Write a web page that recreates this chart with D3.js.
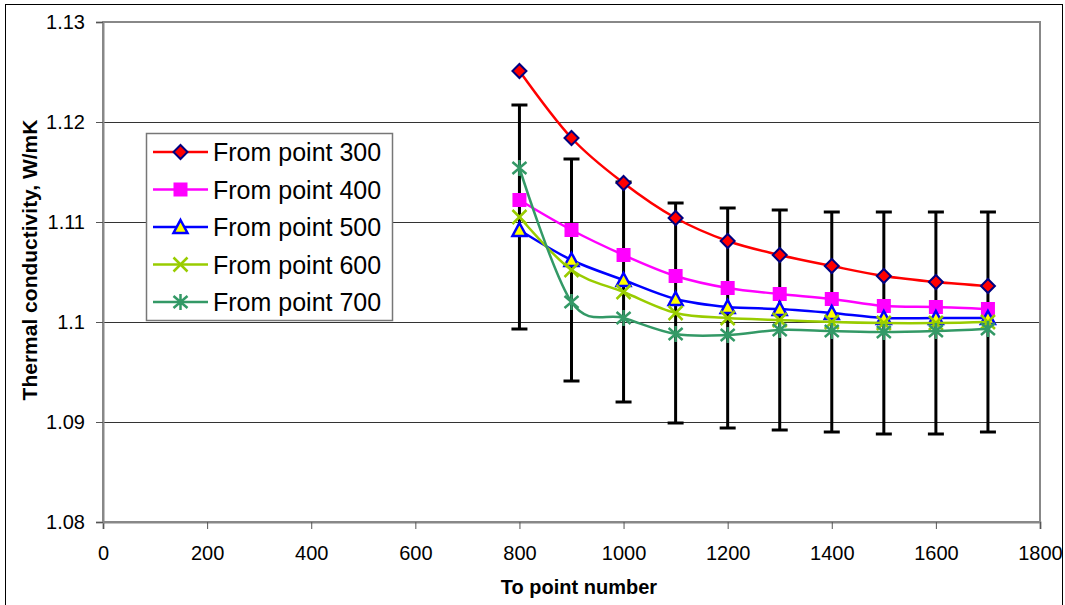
<!DOCTYPE html>
<html>
<head>
<meta charset="utf-8">
<script src="https://cdn.jsdelivr.net/npm/d3@7"></script>
<style>
  body { margin: 0; background: #fff; }
  text { font-family: "Liberation Sans", Arial, sans-serif; }
</style>
</head>
<body>
<div id="chart"></div>
<script>
// --- data
const pointNumbers = [800, 900, 1000, 1100, 1200, 1300, 1400, 1500, 1600, 1700];
const from300 = [1.1251, 1.1184, 1.1139, 1.1104, 1.1081, 1.1067, 1.1056, 1.1046, 1.1040, 1.1036];
const from400 = [1.1122, 1.1092, 1.1067, 1.1046, 1.1034, 1.1028, 1.1023, 1.1016, 1.1015, 1.1013];
const from500 = [1.1092, 1.1062, 1.1042, 1.1023, 1.1015, 1.1013, 1.1009, 1.1004, 1.1004, 1.1004];
const from600 = [1.1105, 1.1052, 1.1030, 1.1009, 1.1004, 1.1002, 1.1000, 1.0999, 1.0999, 1.1000];
const from700 = [1.1154, 1.1020, 1.1004, 1.0988, 1.0987, 1.0992, 1.0991, 1.0990, 1.0991, 1.0993];
// error bars belong to the "From point 600" series
const errors600 = [0.0112, 0.0111, 0.0110, 0.0110, 0.0110, 0.0110, 0.0110, 0.0111, 0.0111, 0.0110];

const seriesNames = ["From point 300", "From point 400", "From point 500", "From point 600", "From point 700"];
const seriesValues = [from300, from400, from500, from600, from700];
const xTicks = [0, 200, 400, 600, 800, 1000, 1200, 1400, 1600, 1800];
const yTicks = [1.08, 1.09, 1.1, 1.11, 1.12, 1.13];

const colors = ["#ff0000", "#ff00ff", "#0000ff", "#99cc00", "#339966"];
const markers = ["diamond", "square", "triangle", "cross", "star"];

// --- layout
const W = 1065, H = 605;
const margin = {top: 22, right: 25, bottom: 83, left: 103};
const width = W - margin.left - margin.right,
      height = H - margin.top - margin.bottom;

const svg = d3.select("#chart").append("svg")
  .attr("width", W).attr("height", H);

// outer chart frame
svg.append("rect")
  .attr("x", 5.5).attr("y", 4.5)
  .attr("width", 1057).attr("height", 610)
  .attr("fill", "none").attr("stroke", "#000").attr("stroke-width", 1);

const g = svg.append("g")
  .attr("transform", "translate(" + margin.left + "," + margin.top + ")");

const x = d3.scaleLinear().domain([0, 1800]).range([0, width]);
const y = d3.scaleLinear().domain([1.08, 1.13]).range([height, 0]);

// gridlines
g.append("g")
  .selectAll("line")
  .data(yTicks.filter(function(d){ return d > 1.08 && d < 1.13; }))
  .enter().append("line")
  .attr("x1", 0).attr("x2", width)
  .attr("y1", function(d){ return Math.round(y(d)) + 0.5; })
  .attr("y2", function(d){ return Math.round(y(d)) + 0.5; })
  .attr("stroke", "#333").attr("stroke-width", 1);

// plot area border
g.append("rect")
  .attr("x", 0).attr("y", 0).attr("width", width).attr("height", height)
  .attr("fill", "none").attr("stroke", "#888").attr("stroke-width", 2);

// axes
const xAxis = g.append("g")
  .attr("transform", "translate(0," + height + ")")
  .call(d3.axisBottom(x).tickValues(xTicks).tickSize(7).tickPadding(17).tickFormat(d3.format("d")));
const yAxis = g.append("g")
  .call(d3.axisLeft(y).tickValues(yTicks).tickSize(7).tickPadding(11).tickFormat(function(d){ return String(+d.toFixed(2)); }));

[xAxis, yAxis].forEach(function(a){
  a.select(".domain").attr("stroke", "#888").attr("stroke-width", 2);
  a.selectAll(".tick line").attr("stroke", "#555").attr("stroke-width", 1);
  a.selectAll(".tick text").attr("fill", "#000")
    .style("font-size", "20px").style("font-family", "'Liberation Sans', Arial, sans-serif");
});

// axis titles
svg.append("text")
  .attr("x", 579).attr("y", 594)
  .attr("text-anchor", "middle")
  .style("font-size", "20px").style("font-weight", "bold")
  .text("To point number");

svg.append("text")
  .attr("transform", "translate(37,260) rotate(-90)")
  .attr("text-anchor", "middle")
  .style("font-size", "21px").style("font-weight", "bold")
  .text("Thermal conductivity, W/mK");

// error bars (under the lines)
const eb = g.append("g");
pointNumbers.forEach(function(p, i){
  const v = from600[i], e = errors600[i];
  const px = x(p);
  eb.append("line")
    .attr("x1", px).attr("x2", px)
    .attr("y1", y(v + e)).attr("y2", y(v - e))
    .attr("stroke", "#000").attr("stroke-width", 3);
  [v + e, v - e].forEach(function(c){
    eb.append("line")
      .attr("x1", px - 8).attr("x2", px + 8)
      .attr("y1", y(c)).attr("y2", y(c))
      .attr("stroke", "#000").attr("stroke-width", 3);
  });
});

// marker drawing
function drawMarker(sel, type, color, cx, cy) {
  if (type === "diamond") {
    sel.append("path")
      .attr("d", "M" + cx + "," + (cy - 7) + "L" + (cx + 7) + "," + cy + "L" + cx + "," + (cy + 7) + "L" + (cx - 7) + "," + cy + "Z")
      .attr("fill", "#ff0000").attr("stroke", "#000080").attr("stroke-width", 2);
  } else if (type === "square") {
    sel.append("rect")
      .attr("x", cx - 7).attr("y", cy - 7).attr("width", 14).attr("height", 14)
      .attr("fill", color);
  } else if (type === "triangle") {
    sel.append("path")
      .attr("d", "M" + cx + "," + (cy - 7) + "L" + (cx + 7) + "," + (cy + 6) + "L" + (cx - 7) + "," + (cy + 6) + "Z")
      .attr("fill", "#ffff00").attr("stroke", "#0000ff").attr("stroke-width", 2.5);
  } else if (type === "cross") {
    sel.append("path")
      .attr("d", "M" + (cx - 7) + "," + (cy - 7) + "L" + (cx + 7) + "," + (cy + 7) + "M" + (cx + 7) + "," + (cy - 7) + "L" + (cx - 7) + "," + (cy + 7))
      .attr("stroke", color).attr("stroke-width", 2.5).attr("fill", "none");
  } else if (type === "star") {
    sel.append("path")
      .attr("d", "M" + cx + "," + (cy - 8) + "L" + cx + "," + (cy + 8) +
                 "M" + (cx - 7) + "," + (cy - 6) + "L" + (cx + 7) + "," + (cy + 6) +
                 "M" + (cx + 7) + "," + (cy - 6) + "L" + (cx - 7) + "," + (cy + 6))
      .attr("stroke", color).attr("stroke-width", 2.5).attr("fill", "none");
  }
}

const line = d3.line()
  .x(function(d){ return x(d[0]); })
  .y(function(d){ return y(d[1]); })
  .curve(d3.curveCatmullRom.alpha(0));

seriesValues.forEach(function(vals, s){
  const pts = pointNumbers.map(function(p, i){ return [p, vals[i]]; });
  const sg = g.append("g");
  sg.append("path")
    .datum(pts)
    .attr("d", line)
    .attr("fill", "none")
    .attr("stroke", colors[s])
    .attr("stroke-width", 2.5);
  pts.forEach(function(d){
    drawMarker(sg, markers[s], colors[s], x(d[0]), y(d[1]));
  });
});

// legend
const legend = svg.append("g");
legend.append("rect")
  .attr("x", 146.5).attr("y", 133.5).attr("width", 246).attr("height", 187)
  .attr("fill", "#fff").attr("stroke", "#777").attr("stroke-width", 1.5);

seriesNames.forEach(function(name, s){
  const cy = 152 + s * 37.5;
  legend.append("line")
    .attr("x1", 153).attr("x2", 208).attr("y1", cy).attr("y2", cy)
    .attr("stroke", colors[s]).attr("stroke-width", 2.5);
  drawMarker(legend, markers[s], colors[s], 180.5, cy);
  legend.append("text")
    .attr("x", 213).attr("y", cy + 9)
    .style("font-size", "25px")
    .text(name);
});
</script>
</body>
</html>
